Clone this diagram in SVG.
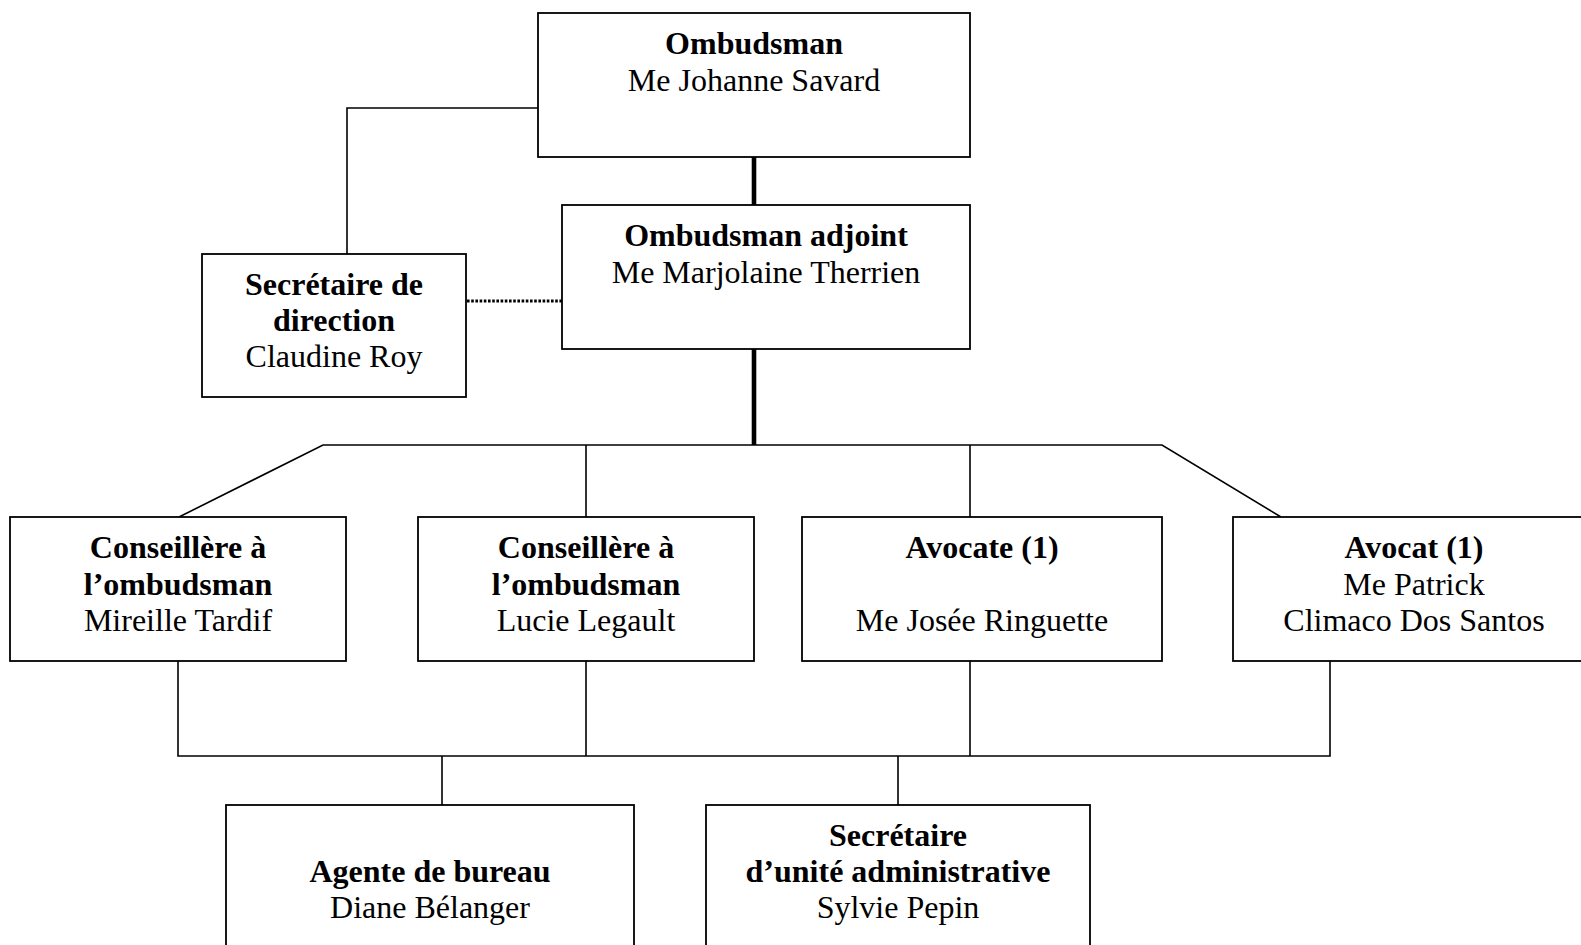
<svg xmlns="http://www.w3.org/2000/svg" width="1581" height="945" viewBox="0 0 1581 945">
<style>
  .box { fill: #ffffff; stroke: #000000; stroke-width: 1.8; }
  .ln { fill: none; stroke: #000000; stroke-width: 1.6; }
  .thick { fill: none; stroke: #000000; stroke-width: 4.6; }
  .dot { fill: none; stroke: #000000; stroke-width: 3; stroke-dasharray: 2.6 1.6; }
  text { font-family: "Liberation Serif", "Times New Roman", serif; font-size: 32px; fill: #000000; text-anchor: middle; }
  .b { font-weight: bold; }
</style>
<rect x="0" y="0" width="1581" height="945" fill="#ffffff"/>
<g id="connectors">
  <polyline class="ln" points="538,108 347,108 347,254"/>
  <line class="dot" x1="467" y1="301" x2="562" y2="301"/>
  <line class="thick" x1="754" y1="157" x2="754" y2="205"/>
  <line class="thick" x1="754" y1="349" x2="754" y2="445"/>
  <polyline class="ln" points="179,517 323,445 1162,445 1281,517"/>
  <line class="ln" x1="586" y1="445" x2="586" y2="517"/>
  <line class="ln" x1="970" y1="445" x2="970" y2="517"/>
  <polyline class="ln" points="178,661 178,756 1330,756 1330,661"/>
  <line class="ln" x1="586" y1="661" x2="586" y2="756"/>
  <line class="ln" x1="970" y1="661" x2="970" y2="756"/>
  <line class="ln" x1="442" y1="756" x2="442" y2="805"/>
  <line class="ln" x1="898" y1="756" x2="898" y2="805"/>
</g>
<g id="ombudsman">
  <rect class="box" x="538" y="13" width="432" height="144"/>
  <text class="b" x="754" y="54">Ombudsman</text>
  <text x="754" y="91">Me Johanne Savard</text>
</g>
<g id="adjoint">
  <rect class="box" x="562" y="205" width="408" height="144"/>
  <text class="b" x="766" y="246">Ombudsman adjoint</text>
  <text x="766" y="283">Me Marjolaine Therrien</text>
</g>
<g id="secretaire-direction">
  <rect class="box" x="202" y="254" width="264" height="143"/>
  <text class="b" x="334" y="295">Secrétaire de</text>
  <text class="b" x="334" y="331">direction</text>
  <text x="334" y="367">Claudine Roy</text>
</g>
<g id="conseillere-tardif">
  <rect class="box" x="10" y="517" width="336" height="144"/>
  <text class="b" x="178" y="558">Conseillère à</text>
  <text class="b" x="178" y="595">l’ombudsman</text>
  <text x="178" y="631">Mireille Tardif</text>
</g>
<g id="conseillere-legault">
  <rect class="box" x="418" y="517" width="336" height="144"/>
  <text class="b" x="586" y="558">Conseillère à</text>
  <text class="b" x="586" y="595">l’ombudsman</text>
  <text x="586" y="631">Lucie Legault</text>
</g>
<g id="avocate">
  <rect class="box" x="802" y="517" width="360" height="144"/>
  <text class="b" x="982" y="558">Avocate (1)</text>
  <text x="982" y="631">Me Josée Ringuette</text>
</g>
<g id="avocat">
  <rect class="box" x="1233" y="517" width="362" height="144"/>
  <text class="b" x="1414" y="558">Avocat (1)</text>
  <text x="1414" y="595">Me Patrick</text>
  <text x="1414" y="631">Climaco Dos Santos</text>
</g>
<g id="agente-bureau">
  <rect class="box" x="226" y="805" width="408" height="160"/>
  <text class="b" x="430" y="882">Agente de bureau</text>
  <text x="430" y="918">Diane Bélanger</text>
</g>
<g id="secretaire-unite">
  <rect class="box" x="706" y="805" width="384" height="160"/>
  <text class="b" x="898" y="846">Secrétaire</text>
  <text class="b" x="898" y="882">d’unité administrative</text>
  <text x="898" y="918">Sylvie Pepin</text>
</g>
</svg>
